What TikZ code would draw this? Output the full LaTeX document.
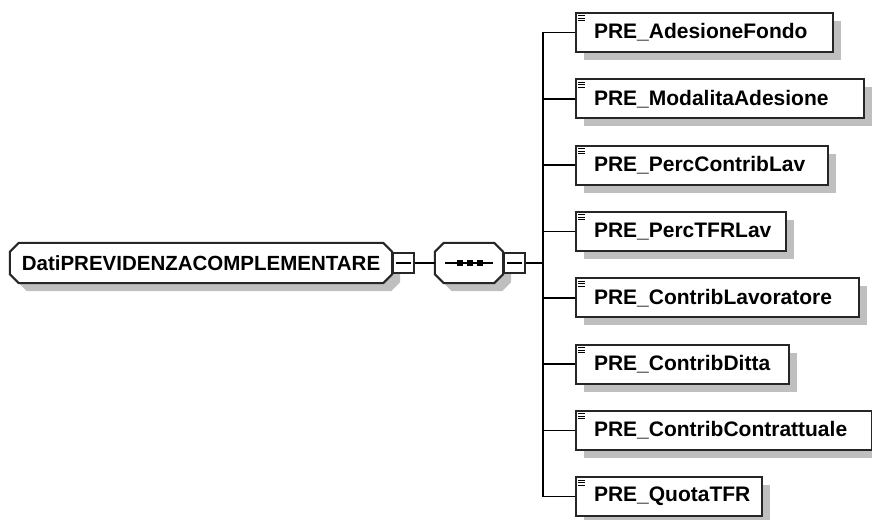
\documentclass[tikz,border=0pt]{standalone}
\usepackage{fontspec}
\setmainfont{Liberation Sans}
\usetikzlibrary{shadows,backgrounds}
\tikzset{
  shadowed/.style={drop shadow={shadow xshift=8pt,shadow yshift=-8pt,fill=black!25,opacity=1}},
  boxline/.style={draw=black!85,line width=2pt},
  conn/.style={draw=black,line width=1.6pt},
  chamtext/.style={minimum height=40pt,inner sep=0pt,font=\bfseries\fontsize{20.5}{24}\selectfont},
  chamshape/.style={boxline,shadowed,fill=white},
  minusbox/.style={draw=black!85,line width=1.5pt,fill=white,minimum width=21pt,minimum height=20pt,inner sep=0pt},
  childbox/.style={boxline,shadowed,fill=white,anchor=west,minimum height=39pt,inner xsep=0pt,inner ysep=0pt,align=left,font=\bfseries\fontsize{21}{25}\selectfont}
}
\newcommand{\childtext}[1]{\hspace*{18pt}\mbox{#1}}
\newcommand{\chamferdraw}[2]{%
  \path[chamshape] ([xshift=#2]#1.north west) -- ([xshift=-#2]#1.north east) -- ([yshift=-#2]#1.north east)
    -- ([yshift=#2]#1.south east) -- ([xshift=-#2]#1.south east) -- ([xshift=#2]#1.south west)
    -- ([yshift=#2]#1.south west) -- ([yshift=-#2]#1.north west) -- cycle;}
\begin{document}
\begin{tikzpicture}[x=1pt,y=-1pt]
\useasboundingbox (0,0) rectangle (872,519);
% main node
\node[chamtext,minimum width=382pt] (main) at (201,263) {DatiPREVIDENZACOMPLEMENTARE};
\node[chamtext,minimum width=68pt] (seq) at (469,263) {};
\begin{scope}[on background layer]
  \chamferdraw{main}{9pt}
  \chamferdraw{seq}{9pt}
\end{scope}
\node[minusbox] (mainminus) at (403.5,263) {};
\draw[line width=1.3pt] ([xshift=4pt]mainminus.west) -- ([xshift=-4pt]mainminus.east);
% sequence node content
\draw[line width=1.3pt] ([xshift=-24pt]seq.center) -- ([xshift=24pt]seq.center);
\foreach \dx in {-9,1,11}
  \fill ([xshift=\dx pt]seq.center) ++(-3,-3) rectangle ++(6,6);
\node[minusbox] (seqminus) at (514.5,263) {};
\draw[line width=1.3pt] ([xshift=4pt]seqminus.west) -- ([xshift=-4pt]seqminus.east);
\draw[conn] (mainminus.east) -- (seq.west);
\coordinate (bus) at (543,263);
\draw[conn] (seqminus.east) -- (bus);
% children
\node[childbox,text width=257pt] (c1) at (575,32.5) {\childtext{PRE\_AdesioneFondo}};
\node[childbox,text width=288pt] (c2) at (575,98.8) {\childtext{PRE\_ModalitaAdesione}};
\node[childbox,text width=252pt] (c3) at (575,165.1) {\childtext{PRE\_PercContribLav}};
\node[childbox,text width=210pt] (c4) at (575,231.4) {\childtext{PRE\_PercTFRLav}};
\node[childbox,text width=283pt] (c5) at (575,297.7) {\childtext{PRE\_ContribLavoratore}};
\node[childbox,text width=213pt] (c6) at (575,364) {\childtext{PRE\_ContribDitta}};
\node[childbox,text width=296pt] (c7) at (575,430.3) {\childtext{PRE\_ContribContrattuale}};
\node[childbox,text width=186pt] (c8) at (575,496.6) {\childtext{PRE\_QuotaTFR}};
\draw[conn] (bus |- c1.west) -- (bus |- c8.west);
\foreach \c in {c1,c2,c3,c4,c5,c6,c7,c8} {
  \draw[conn] (bus |- \c.west) -- (\c.west);
  \foreach \dy in {4,6.5,9}
    \draw[line width=1pt] ([xshift=3pt,yshift=-\dy pt]\c.north west) -- ++(7,0);
}
\end{tikzpicture}
\end{document}
